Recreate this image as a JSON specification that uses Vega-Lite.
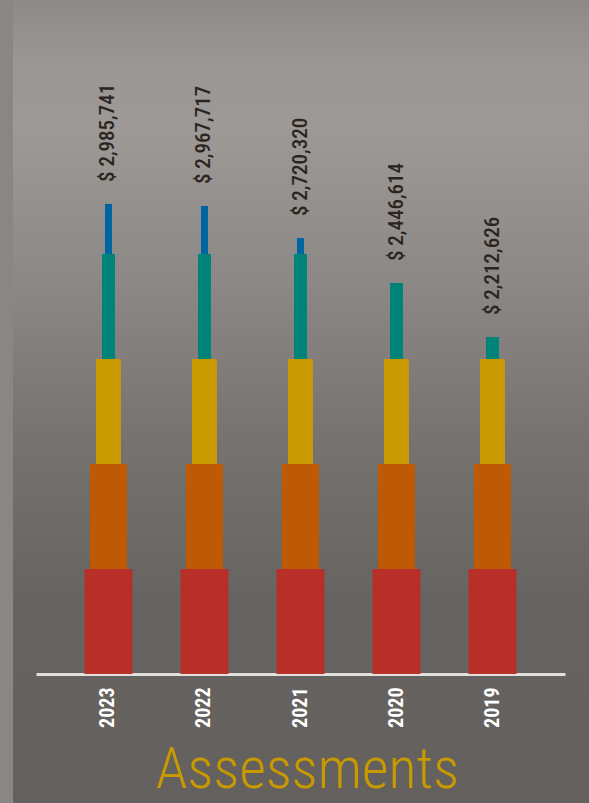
{
  "$schema": "https://vega.github.io/schema/vega-lite/v6.json",
  "width": 576,
  "height": 803,
  "autosize": {"type": "none"},
  "padding": {"left": 13, "top": 0, "right": 0, "bottom": 0},
  "background": "#8a8684",
  "view": {
    "stroke": null,
    "fill": {
      "gradient": "linear",
      "x1": 0, "y1": 0, "x2": 0, "y2": 1,
      "stops": [
        {"offset": 0, "color": "#8d8986"},
        {"offset": 0.08, "color": "#9b9794"},
        {"offset": 0.16, "color": "#9d9996"},
        {"offset": 0.35, "color": "#8c8885"},
        {"offset": 0.55, "color": "#75726f"},
        {"offset": 0.75, "color": "#666360"},
        {"offset": 1, "color": "#63605d"}
      ]
    }
  },
  "datasets": {
    "segments": [
      {"year": "2023", "tier": "Tier 1", "low": 0, "high": 650000},
      {"year": "2023", "tier": "Tier 2", "low": 650000, "high": 1300000},
      {"year": "2023", "tier": "Tier 3", "low": 1300000, "high": 1950000},
      {"year": "2023", "tier": "Tier 4", "low": 1950000, "high": 2600000},
      {"year": "2023", "tier": "Tier 5", "low": 2600000, "high": 2910000},
      {"year": "2022", "tier": "Tier 1", "low": 0, "high": 650000},
      {"year": "2022", "tier": "Tier 2", "low": 650000, "high": 1300000},
      {"year": "2022", "tier": "Tier 3", "low": 1300000, "high": 1950000},
      {"year": "2022", "tier": "Tier 4", "low": 1950000, "high": 2600000},
      {"year": "2022", "tier": "Tier 5", "low": 2600000, "high": 2897000},
      {"year": "2021", "tier": "Tier 1", "low": 0, "high": 650000},
      {"year": "2021", "tier": "Tier 2", "low": 650000, "high": 1300000},
      {"year": "2021", "tier": "Tier 3", "low": 1300000, "high": 1950000},
      {"year": "2021", "tier": "Tier 4", "low": 1950000, "high": 2600000},
      {"year": "2021", "tier": "Tier 5", "low": 2600000, "high": 2699000},
      {"year": "2020", "tier": "Tier 1", "low": 0, "high": 650000},
      {"year": "2020", "tier": "Tier 2", "low": 650000, "high": 1300000},
      {"year": "2020", "tier": "Tier 3", "low": 1300000, "high": 1950000},
      {"year": "2020", "tier": "Tier 4", "low": 1950000, "high": 2420000},
      {"year": "2019", "tier": "Tier 1", "low": 0, "high": 650000},
      {"year": "2019", "tier": "Tier 2", "low": 650000, "high": 1300000},
      {"year": "2019", "tier": "Tier 3", "low": 1300000, "high": 1950000},
      {"year": "2019", "tier": "Tier 4", "low": 1950000, "high": 2086000}
    ],
    "totals": [
      {"year": "2023", "top": 2910000, "label": "$ 2,985,741"},
      {"year": "2022", "top": 2897000, "label": "$ 2,967,717"},
      {"year": "2021", "top": 2699000, "label": "$ 2,720,320"},
      {"year": "2020", "top": 2420000, "label": "$ 2,446,614"},
      {"year": "2019", "top": 2086000, "label": "$ 2,212,626"}
    ]
  },
  "layer": [
    {
      "data": {"name": "segments"},
      "encoding": {
        "x": {
          "field": "year",
          "type": "nominal",
          "sort": null,
          "scale": {
            "domain": ["2023", "2022", "2021", "2020", "2019"],
            "range": [23, 552],
            "paddingInner": 0,
            "paddingOuter": 0.255
          },
          "axis": {
            "orient": "bottom",
            "offset": -129,
            "ticks": false,
            "grid": false,
            "domain": true,
            "domainColor": "#e2e0de",
            "domainWidth": 3,
            "labelAngle": 270,
            "labelAlign": "right",
            "labelBaseline": "middle",
            "labelPadding": 13,
            "labelFont": "Roboto Condensed, Roboto, sans-serif",
            "labelFontWeight": "bold",
            "labelFontSize": 20,
            "labelColor": "#ffffff",
            "title": "Assessments",
            "titleFont": "Roboto Condensed, Roboto, sans-serif",
            "titleFontWeight": 300,
            "titleFontSize": 58,
            "titleColor": "#c99a00",
            "titleBaseline": "alphabetic",
            "titleAlign": "center",
            "titleX": 294,
            "titleY": 113
          }
        },
        "y": {
          "field": "low",
          "type": "quantitative",
          "scale": {"domain": [-798571, 4172381], "nice": false, "zero": false},
          "axis": null
        },
        "y2": {"field": "high"},
        "color": {
          "field": "tier",
          "type": "nominal",
          "scale": {
            "domain": ["Tier 1", "Tier 2", "Tier 3", "Tier 4", "Tier 5"],
            "range": ["#b82e28", "#bf5a04", "#c99a00", "#008379", "#0064a0"]
          },
          "legend": null
        }
      },
      "layer": [
        {"transform": [{"filter": "datum.tier === 'Tier 1'"}], "mark": {"type": "bar", "width": {"band": 0.5}}},
        {"transform": [{"filter": "datum.tier === 'Tier 2'"}], "mark": {"type": "bar", "width": {"band": 0.385}}},
        {"transform": [{"filter": "datum.tier === 'Tier 3'"}], "mark": {"type": "bar", "width": {"band": 0.26}}},
        {"transform": [{"filter": "datum.tier === 'Tier 4'"}], "mark": {"type": "bar", "width": {"band": 0.135}}},
        {"transform": [{"filter": "datum.tier === 'Tier 5'"}], "mark": {"type": "bar", "width": {"band": 0.073}}}
      ]
    },
    {
      "data": {"name": "totals"},
      "mark": {
        "type": "text",
        "angle": 270,
        "align": "left",
        "baseline": "middle",
        "dx": 22,
        "font": "Roboto Condensed, Roboto, sans-serif",
        "fontSize": 21,
        "fontWeight": 500,
        "color": "#2a2521"
      },
      "encoding": {
        "x": {"field": "year", "type": "nominal", "sort": null},
        "y": {"field": "top", "type": "quantitative"},
        "text": {"field": "label"}
      }
    }
  ]
}
